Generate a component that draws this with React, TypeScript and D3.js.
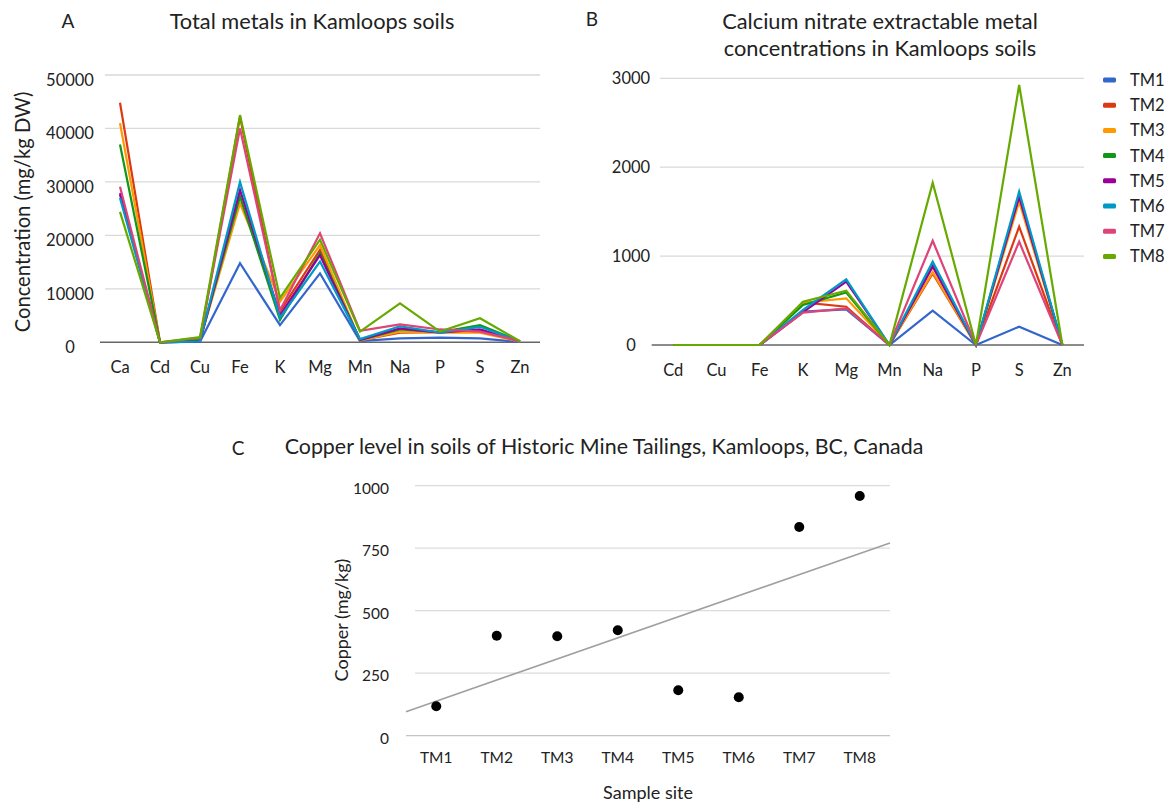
import React from "react";
import * as d3 from "d3";

// Sample sites and their series colours
const sites = ["TM1", "TM2", "TM3", "TM4", "TM5", "TM6", "TM7", "TM8"];
const siteColors = ["#3366cc", "#dc3912", "#ff9900", "#109618", "#990099", "#0099c6", "#dd4477", "#66aa00"];

// A: total metals (mg/kg DW)
const metalsA = ["Ca", "Cd", "Cu", "Fe", "K", "Mg", "Mn", "Na", "P", "S", "Zn"];
const totalTM1 = [27600, 5, 118, 14800, 3200, 12900, 240, 750, 870, 750, 60];
const totalTM2 = [44800, 5, 400, 42200, 5800, 17300, 400, 1800, 1900, 2200, 150];
const totalTM3 = [41000, 5, 398, 26000, 7600, 18200, 350, 2000, 1800, 1800, 120];
const totalTM4 = [37000, 5, 422, 27300, 4200, 16700, 450, 2400, 1900, 3200, 200];
const totalTM5 = [27900, 5, 182, 28500, 5100, 16300, 420, 2600, 1800, 2400, 180];
const totalTM6 = [27000, 5, 154, 30000, 4600, 15100, 600, 3000, 1800, 2900, 160];
const totalTM7 = [29100, 5, 835, 40000, 6000, 20400, 2150, 3350, 2400, 2000, 250];
const totalTM8 = [24400, 5, 959, 42500, 8300, 19200, 2000, 7300, 2000, 4500, 200];
const totalSeries = [totalTM1, totalTM2, totalTM3, totalTM4, totalTM5, totalTM6, totalTM7, totalTM8];
const ticksA = [0, 10000, 20000, 30000, 40000, 50000];

// B: calcium nitrate extractable concentrations
const metalsB = ["Cd", "Cu", "Fe", "K", "Mg", "Mn", "Na", "P", "S", "Zn"];
const extTM1 = [0, 0, 0, 375, 400, 0, 386, 0, 206, 0];
const extTM2 = [0, 0, 0, 480, 430, 0, 806, 0, 1331, 0];
const extTM3 = [0, 0, 0, 475, 525, 0, 820, 0, 1612, 0];
const extTM4 = [0, 0, 0, 450, 590, 0, 900, 0, 1680, 0];
const extTM5 = [0, 0, 0, 370, 712, 0, 880, 0, 1668, 0];
const extTM6 = [0, 0, 0, 395, 739, 0, 937, 0, 1725, 0];
const extTM7 = [0, 0, 0, 365, 413, 0, 1173, 0, 1162, 0];
const extTM8 = [0, 0, 0, 487, 611, 0, 1826, 0, 2925, 0];
const extSeries = [extTM1, extTM2, extTM3, extTM4, extTM5, extTM6, extTM7, extTM8];
const ticksB = [0, 1000, 2000, 3000];

// C: copper per site (mg/kg)
const copper = [118, 400, 398, 422, 182, 154, 835, 959];
const ticksC = [0, 250, 500, 750, 1000];

const FONT = "Lato, 'Open Sans', sans-serif";
const TEXT = "#222";

function LinePanel({
  cats, series, x, y, ticks, gridX0, axisX0, axisX1, tickX, tickDy,
}: {
  cats: string[]; series: number[][]; x: d3.ScalePoint<string>; y: d3.ScaleLinear<number, number>;
  ticks: number[]; gridX0: number; axisX0: number; axisX1: number; tickX: number; tickDy: number;
}) {
  const line = d3.line<number>().x((_, i) => x(cats[i]) as number).y((v) => y(v));
  const y0 = y(0);
  return (
    <g>
      {ticks.filter((t) => t > 0).map((t) => (
        <line key={t} x1={gridX0} x2={axisX1} y1={y(t)} y2={y(t)} stroke="#d9d9d9" strokeWidth={1.3} />
      ))}
      {ticks.map((t) => (
        <text key={"l" + t} x={tickX} y={y(t) + tickDy} textAnchor="middle" dominantBaseline="central"
          fontFamily={FONT} fontSize={16.5} fill={TEXT}>{t}</text>
      ))}
      <line x1={axisX0} x2={axisX1} y1={y0} y2={y0} stroke="#666" strokeWidth={1.4} />
      {series.map((s, i) => (
        <path key={i} d={line(s) || ""} fill="none" stroke={siteColors[i]} strokeWidth={2.2}
          strokeLinejoin="miter" />
      ))}
      {cats.map((c) => (
        <text key={c} x={x(c)} y={y0 + 25} textAnchor="middle" dominantBaseline="central"
          fontFamily={FONT} fontSize={16.5} fill={TEXT}>{c}</text>
      ))}
    </g>
  );
}

export default function App() {
  // Panel A scales
  const xA = d3.scalePoint<string>().domain(metalsA).range([100, 540]).padding(0.5);
  const yA = d3.scaleLinear().domain([0, 50000]).range([342.3, 75]);
  // Panel B scales
  const xB = d3.scalePoint<string>().domain(metalsB).range([651.7, 1084]).padding(0.5);
  const yB = d3.scaleLinear().domain([0, 3000]).range([345, 78.3]);
  // Panel C scales
  const xC = d3.scalePoint<string>().domain(sites).range([406, 890]).padding(0.5);
  const yC = d3.scaleLinear().domain([0, 1000]).range([735.7, 485.7]);

  // Least-squares trend of copper against site index (1..8)
  const idx = copper.map((_, i) => i + 1);
  const mx = d3.mean(idx) as number;
  const my = d3.mean(copper) as number;
  const sxy = d3.sum(idx.map((v, i) => (v - mx) * (copper[i] - my)));
  const sxx = d3.sum(idx.map((v) => (v - mx) ** 2));
  const slope = sxy / sxx;
  const icpt = my - slope * mx;
  const stepC = xC.step();
  const idxToX = d3.scaleLinear().domain([1, 2]).range([xC(sites[0]) as number, (xC(sites[0]) as number) + stepC]);
  const tA = 0.5, tB = sites.length + 0.5;

  return (
    <svg width={1170} height={805} style={{ position: "absolute", left: 0, top: 0, background: "#fff" }}>
      <rect width={1170} height={805} fill="#fff" />

      {/* Panel A */}
      <text x={68} y={20} textAnchor="middle" dominantBaseline="central" fontFamily={FONT} fontSize={19} fill={TEXT}>A</text>
      <text x={312} y={20} textAnchor="middle" dominantBaseline="central" fontFamily={FONT} fontSize={21.8} fill={TEXT}>
        Total metals in Kamloops soils
      </text>
      <text transform="translate(22,212) rotate(-90)" textAnchor="middle" dominantBaseline="central"
        fontFamily={FONT} fontSize={20.2} fill={TEXT}>Concentration (mg/kg DW)</text>
      <LinePanel cats={metalsA} series={totalSeries} x={xA} y={yA} ticks={ticksA}
        gridX0={105} axisX0={100} axisX1={540} tickX={70} tickDy={5} />

      {/* Panel B */}
      <text x={592} y={18} textAnchor="middle" dominantBaseline="central" fontFamily={FONT} fontSize={19} fill={TEXT}>B</text>
      <text x={880} y={20} textAnchor="middle" dominantBaseline="central" fontFamily={FONT} fontSize={21.8} fill={TEXT}>
        Calcium nitrate extractable metal
      </text>
      <text x={880} y={47} textAnchor="middle" dominantBaseline="central" fontFamily={FONT} fontSize={21.8} fill={TEXT}>
        concentrations in Kamloops soils
      </text>
      <LinePanel cats={metalsB} series={extSeries} x={xB} y={yB} ticks={ticksB}
        gridX0={660} axisX0={651.7} axisX1={1084} tickX={631} tickDy={0} />
      {sites.map((s, i) => (
        <g key={s}>
          <rect x={1103} y={80 + i * 25.2 - 2.5} width={13} height={5} rx={1.5} fill={siteColors[i]} />
          <text x={1130} y={80 + i * 25.2} dominantBaseline="central" fontFamily={FONT} fontSize={16.5} fill={TEXT}>{s}</text>
        </g>
      ))}

      {/* Panel C */}
      <text x={238} y={447} textAnchor="middle" dominantBaseline="central" fontFamily={FONT} fontSize={19} fill={TEXT}>C</text>
      <text x={604} y={446} textAnchor="middle" dominantBaseline="central" fontFamily={FONT} fontSize={21.4} fill={TEXT}>
        Copper level in soils of Historic Mine Tailings, Kamloops, BC, Canada
      </text>
      {ticksC.filter((t) => t > 0).map((t) => (
        <line key={t} x1={415} x2={890} y1={yC(t)} y2={yC(t)} stroke="#dcdcdc" strokeWidth={1.2} />
      ))}
      <line x1={406} x2={890} y1={yC(0)} y2={yC(0)} stroke="#c4c4c4" strokeWidth={1.3} />
      {ticksC.map((t) => (
        <text key={"c" + t} x={389} y={yC(t) + 2} textAnchor="end" dominantBaseline="central"
          fontFamily={FONT} fontSize={15.5} fill={TEXT}>{t}</text>
      ))}
      <line x1={idxToX(tA)} x2={idxToX(tB)} y1={yC(icpt + slope * tA)} y2={yC(icpt + slope * tB)}
        stroke="#a0a0a0" strokeWidth={1.6} />
      {copper.map((v, i) => (
        <circle key={i} cx={xC(sites[i])} cy={yC(v)} r={5} fill="#000" />
      ))}
      {sites.map((s) => (
        <text key={"x" + s} x={xC(s)} y={757} textAnchor="middle" dominantBaseline="central"
          fontFamily={FONT} fontSize={15.5} fill={TEXT}>{s}</text>
      ))}
      <text transform="translate(341,620) rotate(-90)" textAnchor="middle" dominantBaseline="central"
        fontFamily={FONT} fontSize={18} fill={TEXT}>Copper (mg/kg)</text>
      <text x={648} y={792} textAnchor="middle" dominantBaseline="central" fontFamily={FONT} fontSize={18} fill={TEXT}>
        Sample site
      </text>
    </svg>
  );
}
